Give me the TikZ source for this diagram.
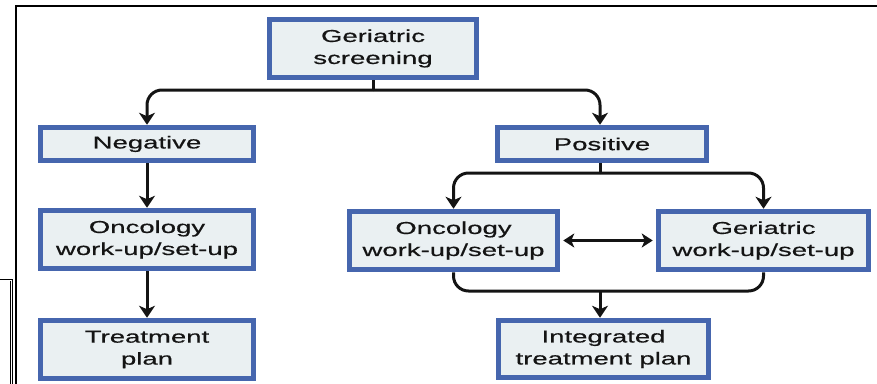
\documentclass[tikz,border=0pt]{standalone}
\usepackage{fontspec}
\setmainfont{Liberation Sans}
\newfontfamily\boxfont[FakeStretch=1.6,FakeBold=0.6]{Liberation Sans}
\usetikzlibrary{arrows.meta}
\definecolor{boxblue}{HTML}{4666AE}
\definecolor{boxfill}{HTML}{EAF0F2}
\definecolor{ink}{HTML}{141414}
\tikzset{
  flowbox/.style={draw=boxblue, fill=boxfill, line width=5.5pt, inner sep=0pt,
    align=center, text=ink, font=\boxfont\fontsize{17.2}{22}\selectfont},
  conn/.style={draw=ink, line width=3pt},
  arr/.style={conn, -{Stealth[length=12pt,width=16pt,inset=3.5pt]}},
  dbl/.style={draw=ink, line width=2.4pt, {Stealth[length=11pt,width=14pt,inset=3pt]}-{Stealth[length=11pt,width=14pt,inset=3pt]}},
  frameline/.style={draw=black, line width=2.6pt},
  thinline/.style={draw=black, line width=0.9pt}
}
\begin{document}
\begin{tikzpicture}[x=1pt,y=-1pt]
\useasboundingbox (0,0) rectangle (877,383);
% frame
\draw[frameline] (16,390) -- (16,6) -- (880,6);
\draw[thinline] (-2,279) -- (12.5,279) -- (12.5,390);
\draw[thinline] (10.5,281) -- (10.5,390);
% boxes
\node[flowbox, minimum width=207pt, minimum height=58pt] (gs) at (373,48.5) {Geriatric\\screening};
\node[flowbox, minimum width=213pt, minimum height=33pt] (neg) at (147,144) {Negative};
\node[flowbox, minimum width=209pt, minimum height=33pt] (pos) at (602,144) {Positive};
\node[flowbox, minimum width=213pt, minimum height=58pt] (oncl) at (147,239.5) {Oncology\\work-up/set-up};
\node[flowbox, minimum width=213pt, minimum height=58pt] (treat) at (147,349.5) {Treatment\\plan};
\node[flowbox, minimum width=208pt, minimum height=58pt] (oncr) at (453.5,240.5) {Oncology\\work-up/set-up};
\node[flowbox, minimum width=210pt, minimum height=58pt] (gerr) at (763.5,240.5) {Geriatric\\work-up/set-up};
\node[flowbox, minimum width=210pt, minimum height=57pt] (int) at (603.5,349) {Integrated\\treatment plan};
% junctions
\coordinate (j1) at (gs.south |- 0,90);
\coordinate (j2) at (600,173);
\coordinate (j3) at (600,291);
% connectors
\draw[conn] (gs.south) -- (j1);
\draw[arr, rounded corners=15pt] (j1) -| (neg.north);
\draw[arr, rounded corners=15pt] (j1) -| (j2 |- pos.north);
\draw[arr] (neg) -- (oncl);
\draw[arr] (oncl) -- (treat);
\draw[conn] (j2 |- pos.south) -- (j2);
\draw[arr, rounded corners=15pt] (j2) -| (oncr.north);
\draw[arr, rounded corners=15pt] (j2) -| (gerr.north);
\draw[dbl, shorten <=3pt, shorten >=3pt] (oncr.east) -- (gerr.west);
\draw[conn, rounded corners=15pt] (oncr.south) |- (j3) -| (gerr.south);
\draw[arr] (j3) -- (j3 |- int.north);
\end{tikzpicture}
\end{document}
